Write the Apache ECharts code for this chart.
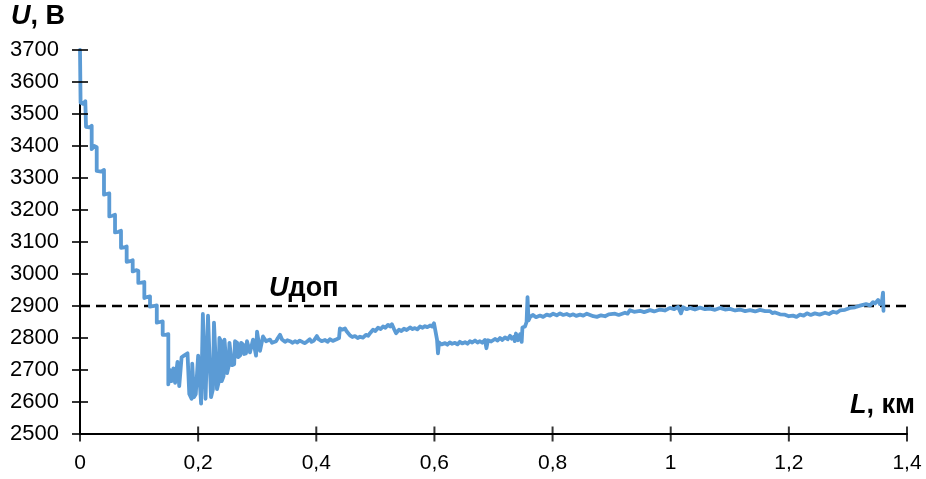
<!DOCTYPE html>
<html><head><meta charset="utf-8">
<script src="https://cdn.jsdelivr.net/npm/echarts@6/dist/echarts.min.js"></script>
<style>html,body{margin:0;padding:0;background:#fff}#c{width:926px;height:479px}</style>
</head><body><div id="c"></div>
<script>
// Axis ranges / ticks
const xTicks = [0, 0.2, 0.4, 0.6, 0.8, 1, 1.2, 1.4];
const yTicks = [2500, 2600, 2700, 2800, 2900, 3000, 3100, 3200, 3300, 3400, 3500, 3600, 3700];
const uDop = 2900;
const yTitle = ['U', ', В'];
const xTitle = ['L', ', км'];
const limitLabel = ['U', 'доп'];

// Measured profile [L km, U V]
const profile = [
[0,3700],[0.001,3535],[0.005,3532],[0.009,3540],[0.0102,3545],[0.0102,3460],[0.016,3458],[0.0198,3463],
[0.0198,3390],[0.024,3400],[0.0283,3396],[0.0283,3322],[0.036,3320],[0.0406,3325],[0.0406,3248],[0.045,3250],
[0.0496,3252],[0.0496,3180],[0.055,3182],[0.0593,3185],[0.0593,3130],[0.065,3132],[0.0694,3135],[0.0694,3082],
[0.075,3083],[0.079,3086],[0.079,3038],[0.085,3040],[0.0892,3043],[0.0892,3008],[0.095,3012],[0.0987,3010],
[0.0987,2972],[0.104,2973],[0.1089,2975],[0.1089,2925],[0.113,2928],[0.1185,2930],[0.1185,2898],[0.125,2900],
[0.130,2902],[0.130,2848],[0.135,2850],[0.140,2852],[0.140,2810],[0.145,2810],[0.1495,2812],[0.1495,2655],
[0.151,2660],[0.152,2700],[0.154,2695],[0.155,2665],[0.157,2668],[0.158,2705],[0.160,2700],[0.161,2660],
[0.163,2665],[0.165,2725],[0.167,2722],[0.168,2650],[0.170,2655],[0.172,2740],[0.176,2745],[0.178,2750],
[0.182,2752],[0.184,2755],[0.185,2625],[0.187,2620],[0.189,2610],[0.190,2720],[0.192,2725],[0.193,2615],
[0.196,2625],[0.200,2745],[0.203,2740],[0.205,2595],[0.208,2875],[0.211,2878],[0.2125,2610],[0.215,2612],
[0.2167,2870],[0.220,2868],[0.2218,2615],[0.225,2640],[0.2268,2848],[0.230,2845],[0.2319,2640],[0.2345,2660],
[0.236,2800],[0.2387,2790],[0.240,2665],[0.243,2680],[0.2446,2795],[0.247,2790],[0.2489,2690],[0.2514,2710],
[0.253,2785],[0.2556,2780],[0.2573,2715],[0.261,2718],[0.2624,2790],[0.266,2785],[0.2675,2740],[0.271,2745],
[0.2726,2785],[0.276,2780],[0.2776,2750],[0.281,2752],[0.2827,2790],[0.286,2785],[0.2878,2755],[0.291,2760],
[0.2929,2795],[0.296,2790],[0.298,2745],[0.2997,2820],[0.303,2815],[0.3047,2760],[0.308,2765],[0.3098,2805],
[0.313,2810],[0.315,2790],[0.3216,2795],[0.325,2785],[0.332,2790],[0.335,2800],[0.3386,2810],
[0.342,2795],[0.347,2788],[0.351,2793],[0.3555,2790],[0.360,2785],[0.364,2790],[0.368,2786],[0.372,2792],
[0.377,2787],[0.381,2784],[0.385,2790],[0.389,2796],[0.392,2788],[0.396,2792],[0.401,2806],[0.404,2796],
[0.409,2790],[0.4148,2794],[0.419,2788],[0.423,2796],[0.428,2791],[0.4334,2795],[0.4385,2800],[0.440,2830],
[0.444,2826],[0.4486,2830],[0.451,2822],[0.4537,2818],[0.457,2808],[0.461,2803],[0.4655,2806],[0.470,2800],
[0.474,2804],[0.479,2801],[0.484,2810],[0.488,2807],[0.491,2815],[0.4935,2812],[0.496,2826],[0.500,2822],
[0.5045,2832],[0.509,2828],[0.513,2836],[0.517,2832],[0.5214,2841],[0.525,2836],[0.528,2843],[0.5316,2828],
[0.535,2815],[0.538,2820],[0.540,2826],[0.544,2822],[0.5485,2829],[0.553,2825],[0.5587,2833],[0.563,2828],
[0.567,2831],[0.571,2827],[0.5756,2836],[0.580,2832],[0.584,2837],[0.588,2834],[0.5925,2839],[0.596,2836],
[0.5993,2846],[0.601,2842],[0.6044,2795],[0.606,2752],[0.6078,2786],[0.612,2780],[0.618,2784],[0.622,2779],
[0.626,2786],[0.630,2782],[0.6348,2785],[0.639,2780],[0.643,2788],[0.647,2783],[0.6518,2787],[0.656,2782],
[0.660,2790],[0.664,2786],[0.6687,2792],[0.673,2786],[0.677,2790],[0.681,2785],[0.6856,2794],[0.688,2768],
[0.6907,2793],[0.696,2789],[0.7025,2797],[0.707,2792],[0.711,2800],[0.715,2794],[0.7195,2802],[0.724,2796],
[0.728,2807],[0.731,2798],[0.7347,2804],[0.736,2790],[0.738,2814],[0.7415,2793],[0.745,2812],[0.7477,2788],
[0.749,2833],[0.7534,2836],[0.756,2850],[0.7576,2928],[0.7593,2855],[0.762,2866],[0.767,2872],[0.772,2865],
[0.7787,2870],[0.784,2866],[0.790,2873],[0.7957,2870],[0.801,2876],[0.807,2871],[0.8126,2877],[0.818,2872],
[0.824,2875],[0.8295,2870],[0.835,2874],[0.840,2869],[0.8465,2873],[0.852,2870],[0.858,2876],[0.8634,2872],
[0.869,2868],[0.875,2866],[0.882,2871],[0.8888,2868],[0.895,2874],[0.9057,2876],[0.912,2872],[0.9226,2879],
[0.927,2876],[0.931,2887],[0.938,2882],[0.948,2885],[0.955,2881],[0.965,2887],[0.972,2883],[0.9819,2889],
[0.990,2886],[0.9988,2894],[1.006,2890],[1.0124,2897],[1.0174,2877],[1.0208,2896],[1.027,2890],[1.0327,2894],
[1.041,2889],[1.0496,2895],[1.058,2890],[1.0665,2892],[1.075,2888],[1.0834,2894],[1.092,2889],[1.1004,2891],
[1.109,2886],[1.1173,2889],[1.126,2884],[1.1342,2887],[1.143,2883],[1.1512,2888],[1.160,2884],[1.168,2884],
[1.172,2878],[1.1766,2880],[1.185,2874],[1.1935,2873],[1.200,2868],[1.207,2870],[1.213,2866],[1.2189,2873],
[1.225,2870],[1.2307,2877],[1.237,2872],[1.244,2877],[1.252,2873],[1.2612,2879],[1.268,2875],[1.2748,2882],
[1.281,2879],[1.2866,2886],[1.295,2888],[1.3036,2894],[1.312,2896],[1.3205,2901],[1.3307,2906],[1.3374,2902],
[1.3425,2912],[1.3459,2908],[1.351,2919],[1.3543,2906],[1.3577,2916],[1.3594,2942],[1.3602,2885]
];

const FONT = 'Arial, "Liberation Sans", sans-serif';
const xMin = xTicks[0], xMax = xTicks[xTicks.length-1];
const xInt = xTicks[1]-xTicks[0];
const yMin = yTicks[0], yMax = yTicks[yTicks.length-1];
const yInt = yTicks[1]-yTicks[0];
const fmtX = v => String(+(+v).toFixed(1)).replace('.', ',');
const fmtY = v => String(Math.round(v));

const chart = echarts.init(document.getElementById('c'), null, {renderer:'canvas'});
const rich = {
  u:{font:'italic bold 27px '+FONT, fill:'#000', color:'#000'},
  r:{font:'bold 27px '+FONT, fill:'#000', color:'#000'}
};
const titleText = p => '{u|' + p[0] + '}{r|' + p[1] + '}';
chart.setOption({
  animation:false,
  backgroundColor:'#fff',
  grid:{left:80, right:19, top:50, bottom:45, containLabel:false},
  xAxis:{type:'value', min:xMin, max:xMax, interval:xInt, splitLine:{show:false},
    axisLine:{lineStyle:{color:'#000', width:2}},
    axisTick:{show:false},
    axisLabel:{formatter:fmtX, fontSize:21, color:'#000', fontFamily:FONT, margin:19}
  },
  yAxis:{type:'value', min:yMin, max:yMax, interval:yInt, splitLine:{show:false},
    axisLine:{lineStyle:{color:'#000', width:2}},
    axisTick:{show:false},
    axisLabel:{formatter:fmtY, fontSize:22, color:'#000', fontFamily:FONT, margin:21}
  },
  series:[
    // crossing tick marks on the x axis
    {type:'scatter', data:xTicks.map(t => [t, yMin]), symbol:'rect', symbolSize:[2,15],
     itemStyle:{color:'#000'}, silent:true, clip:false, z:5},
    // crossing tick marks on the y axis
    {type:'scatter', data:yTicks.map(t => [xMin, t]), symbol:'rect', symbolSize:[16,2],
     itemStyle:{color:'#000'}, silent:true, clip:false, z:5},
    {type:'line', data:[[xMin,uDop],[xMax,uDop]], showSymbol:false, silent:true,
     lineStyle:{color:'#000', width:2.5, type:[10,6]}, z:1},
    {type:'line', data:profile, showSymbol:false, silent:true,
     lineStyle:{color:'#5B9BD5', width:3.8, join:'round', cap:'round'}, z:2}
  ],
  graphic:[
    {type:'text', left:11, top:3, style:{text:titleText(yTitle), rich:rich}},
    {type:'text', left:850, top:392, style:{text:titleText(xTitle), rich:rich}},
    {type:'text', left:269, top:275, style:{text:titleText(limitLabel), rich:rich}}
  ]
});
</script></body></html>
